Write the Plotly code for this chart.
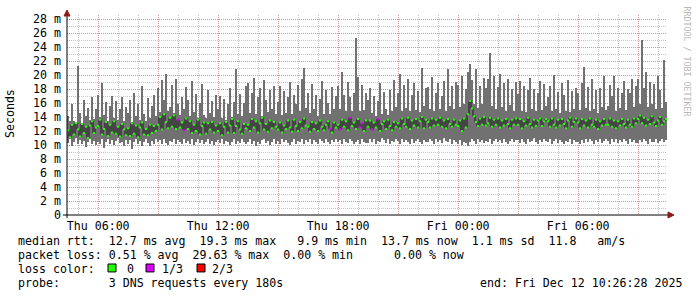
import plotly.graph_objects as go
import pandas as pd

START = "2025-12-11 04:26:28"
END = "2025-12-12 10:26:28"
STEP_MIN = 6

# upper smoke (max ping), ms
rtt_high = [
    14.2, 13.5, 15.8, 13.4, 13.2, 21.3, 14.6, 13.1, 16.4, 14.1, 15.3, 13.6, 16.9, 13.7, 15.1,
    17.2, 14.0, 18.9, 14.3, 16.1, 13.5, 15.6, 17.0, 13.8, 16.3, 13.6, 15.2, 16.8, 13.4, 15.5,
    14.6, 16.4, 13.3, 17.5, 14.2, 15.8, 13.6, 18.4, 14.5, 13.5, 16.7, 13.9, 15.6, 17.1, 14.2,
    18.1, 14.7, 19.3, 16.4, 20.2, 14.9, 15.5, 18.6, 14.6, 19.4, 15.9, 14.3, 16.8, 15.2, 18.3,
    16.5, 14.1, 19.2, 14.7, 17.3, 13.9, 16.0, 18.7, 14.3, 13.8, 17.8, 14.6, 16.3, 14.0, 17.1,
    15.2, 17.0, 13.8, 16.6, 13.6, 15.8, 18.1, 14.0, 16.2, 20.8, 14.4, 17.3, 14.1, 16.0, 18.5,
    18.8, 14.6, 17.4, 19.6, 14.5, 16.9, 18.2, 14.2, 19.3, 16.4, 14.7, 17.9, 15.1, 18.5, 14.5,
    16.2, 18.4, 14.3, 17.7, 14.6, 16.8, 19.0, 14.4, 17.2, 15.8, 18.6, 14.8, 19.5, 21.0, 15.3,
    17.5, 14.6, 18.7, 15.1, 17.1, 14.2, 16.6, 19.2, 14.5, 17.8, 16.0, 14.4, 18.3, 15.2, 17.0,
    18.4, 15.1, 20.5, 17.2, 14.9, 19.0, 16.8, 14.8, 17.4, 25.3, 19.7, 14.9, 18.6, 15.0, 17.5,
    16.5, 18.2, 14.6, 17.0, 14.2, 16.3, 18.9, 14.5, 17.6, 15.2, 14.3, 17.9, 14.8, 19.3, 15.4,
    17.4, 20.2, 14.9, 18.6, 15.3, 19.5, 14.8, 17.2, 18.9, 15.0, 17.7, 14.7, 21.0, 15.6, 18.2,
    18.3, 15.2, 19.7, 14.8, 17.5, 18.9, 15.1, 17.0, 19.2, 14.9, 20.8, 15.6, 18.4, 15.2, 19.0,
    18.6, 15.5, 19.9, 15.8, 18.0, 20.4, 21.6, 19.3, 15.9, 20.9, 15.3, 18.5, 15.8, 19.6, 18.1,
    19.5, 23.2, 15.6, 19.8, 15.2, 18.3, 20.1, 15.4, 18.8, 14.9, 19.4, 15.7, 18.0, 14.8, 19.0,
    17.3, 19.1, 14.9, 18.4, 14.7, 17.8, 19.6, 15.2, 18.0, 14.8, 17.4, 19.2, 15.0, 18.7, 15.6,
    16.8, 18.5, 14.8, 20.0, 15.1, 17.6, 14.6, 18.9, 17.1, 14.9, 19.3, 14.7, 17.7, 15.2, 18.2,
    17.5, 15.0, 18.8, 21.1, 15.3, 18.3, 14.8, 19.4, 15.2, 17.9, 14.6, 18.1, 15.5, 19.9, 15.0,
    15.6, 18.6, 17.0, 19.8, 14.9, 18.2, 15.3, 17.4, 19.1, 15.0, 18.0, 17.5, 19.5, 15.4, 18.4,
    19.4, 15.8, 25.0, 18.2, 20.5, 15.4, 19.0, 15.9, 18.7, 15.2, 19.8, 17.9, 15.3, 22.2, 16.2,
]

# lower smoke (min ping), ms
rtt_low = [
    10.3, 10.8, 9.9, 10.5, 11.0, 10.2, 10.7, 10.1, 10.6, 9.7, 10.4, 10.9, 10.2, 10.6, 10.0,
    10.5, 10.1, 10.8, 9.6, 10.4, 10.9, 10.2, 10.7, 10.0, 10.6, 11.0, 10.3, 10.5, 9.9, 10.7,
    10.2, 10.7, 9.5, 10.4, 10.9, 10.1, 10.6, 9.8, 10.5, 10.8, 10.3, 9.9, 10.6, 10.2, 10.8,
    10.4, 10.7, 10.1, 10.8, 10.3, 10.0, 10.6, 10.4, 10.9, 10.2, 10.7, 10.5, 10.1, 10.8, 10.3,
    10.6, 10.2, 10.8, 10.0, 10.5, 10.9, 10.3, 10.7, 10.1, 10.4, 10.8, 10.2, 10.6, 10.0, 10.5,
    10.7, 10.3, 10.9, 10.2, 10.6, 10.4, 10.0, 10.5, 10.8, 10.1, 10.6, 10.3, 10.9, 10.4, 10.2,
    10.4, 10.8, 10.1, 10.6, 9.8, 10.5, 10.2, 10.7, 10.9, 10.3, 10.6, 10.0, 10.5, 10.8, 10.2,
    10.6, 10.2, 10.9, 10.4, 10.7, 10.3, 10.0, 10.5, 10.8, 10.1, 10.6, 10.4, 10.9, 10.2, 10.7,
    10.5, 10.9, 10.2, 10.7, 10.4, 10.1, 10.8, 10.6, 10.3, 10.9, 10.5, 10.2, 10.7, 10.4, 10.8,
    10.4, 10.7, 10.2, 10.9, 10.5, 10.3, 10.8, 10.6, 10.1, 10.4, 10.7, 10.2, 10.9, 10.5, 10.3,
    10.3, 10.8, 10.5, 10.9, 10.2, 10.6, 10.4, 11.0, 10.7, 10.3, 10.8, 10.1, 10.6, 10.4, 10.9,
    10.6, 10.2, 10.9, 10.4, 10.7, 10.5, 10.1, 10.8, 10.3, 10.6, 10.9, 10.4, 10.2, 10.7, 10.5,
    10.4, 10.9, 10.6, 10.2, 10.8, 10.5, 10.7, 10.3, 11.0, 10.6, 10.4, 10.8, 10.2, 10.7, 10.5,
    10.2, 10.7, 10.0, 10.5, 10.3, 9.9, 10.4, 10.8, 10.6, 10.2, 10.9, 10.4, 10.7, 10.3, 10.6,
    10.5, 10.8, 10.2, 10.6, 10.9, 10.4, 10.7, 10.3, 10.8, 10.5, 10.1, 10.6, 10.9, 10.4, 10.7,
    10.7, 10.3, 10.9, 10.5, 10.1, 10.8, 10.4, 10.6, 11.0, 10.5, 10.2, 10.7, 10.4, 10.9, 10.6,
    10.4, 10.8, 10.2, 10.6, 10.9, 10.3, 10.7, 10.5, 10.1, 10.6, 10.4, 10.8, 10.2, 10.7, 10.5,
    10.5, 10.1, 10.7, 10.3, 10.8, 10.4, 10.9, 10.6, 10.2, 10.7, 10.5, 10.9, 10.3, 10.6, 10.8,
    10.6, 10.2, 10.8, 10.5, 10.9, 10.3, 10.7, 10.4, 10.8, 10.6, 10.2, 10.9, 10.5, 10.7, 10.3,
    10.3, 10.7, 10.5, 10.9, 10.6, 10.2, 10.8, 10.4, 10.5, 10.8, 10.3, 10.6, 10.9, 10.4, 10.7,
]

# median rtt, ms
rtt_median = [
    12.1, 11.1, 12.9, 11.5, 13.1, 12.2, 11.2, 13.0, 11.7, 12.6, 11.0, 12.8, 13.4, 11.7, 12.5,
    12.7, 13.6, 11.5, 12.3, 13.3, 11.3, 12.9, 11.8, 13.4, 11.6, 12.6, 11.2, 13.0, 12.2, 11.4,
    12.4, 11.3, 13.1, 11.6, 12.8, 11.1, 12.5, 13.2, 11.5, 12.3, 11.4, 12.9, 11.7, 12.7, 12.0,
    12.9, 14.0, 12.2, 14.4, 13.3, 12.4, 13.9, 12.6, 14.2, 12.3, 13.6, 12.5, 13.2, 12.1, 13.8,
    12.3, 13.4, 11.7, 12.9, 12.0, 13.6, 11.5, 12.7, 13.2, 11.6, 13.1, 12.2, 13.3, 11.8, 12.8,
    12.0, 13.1, 11.4, 12.6, 13.3, 11.8, 12.8, 13.7, 11.7, 12.7, 13.4, 12.2, 11.6, 13.0, 12.4,
    12.9, 12.0, 13.7, 12.5, 13.4, 11.8, 13.1, 13.9, 12.2, 13.0, 11.9, 13.5, 12.4, 13.3, 12.6,
    12.2, 13.2, 11.8, 12.8, 12.3, 13.5, 12.5, 11.9, 13.6, 12.7, 12.0, 13.3, 12.4, 13.8, 12.8,
    12.6, 11.9, 13.3, 12.3, 13.1, 12.0, 13.5, 12.6, 12.1, 12.9, 13.4, 12.3, 11.8, 13.2, 12.5,
    12.9, 12.2, 13.6, 12.6, 13.4, 12.1, 13.9, 12.7, 13.2, 12.3, 13.7, 12.5, 13.1, 12.0, 13.5,
    12.6, 13.5, 12.2, 13.2, 12.5, 13.7, 12.0, 13.0, 13.4, 12.3, 13.6, 12.7, 12.1, 13.3, 12.6,
    13.1, 12.4, 13.8, 13.0, 12.6, 13.9, 12.3, 13.5, 12.8, 13.7, 12.5, 13.4, 14.0, 12.4, 13.6,
    13.3, 12.5, 13.8, 12.8, 13.6, 12.9, 13.9, 12.6, 13.5, 12.4, 13.7, 13.0, 12.6, 13.6, 12.9,
    12.7, 13.5, 12.0, 13.8, 12.5, 14.4, 16.3, 15.2, 14.1, 13.3, 12.7, 13.8, 12.9, 14.0, 12.8,
    13.1, 13.9, 12.6, 13.6, 12.9, 13.8, 12.5, 13.5, 12.8, 13.7, 13.0, 12.4, 13.6, 12.9, 13.8,
    12.9, 13.7, 12.4, 13.4, 12.8, 13.9, 13.0, 12.5, 13.6, 12.7, 13.5, 13.8, 12.7, 13.4, 13.7,
    13.4, 12.6, 13.8, 12.9, 12.5, 13.6, 12.8, 13.7, 13.0, 12.4, 13.5, 13.9, 12.6, 13.3, 13.8,
    13.2, 12.4, 13.7, 12.8, 13.5, 12.5, 13.8, 12.9, 12.6, 13.6, 12.3, 13.4, 12.8, 13.7, 12.9,
    12.9, 13.8, 12.6, 13.5, 12.4, 13.4, 12.8, 13.7, 13.0, 12.5, 13.6, 12.9, 12.6, 13.8, 13.1,
    13.7, 14.2, 13.1, 13.9, 12.8, 13.6, 13.0, 14.1, 13.2, 12.7, 13.5, 14.0, 12.9, 13.4, 13.7,
]

# sample indices with 1/3 packet loss
loss_third_idx = [55, 58, 131, 136, 141, 146, 147, 152, 155]

y_tickvals = list(range(0, 29, 2))
y_ticktext = ["0"] + [f"{v}\u00a0m" for v in y_tickvals[1:]]
x_tickvals = ["2025-12-11 06:00", "2025-12-11 09:00", "2025-12-11 12:00", "2025-12-11 15:00",
              "2025-12-11 18:00", "2025-12-11 21:00", "2025-12-12 00:00", "2025-12-12 03:00",
              "2025-12-12 06:00", "2025-12-12 09:00"]
x_ticktext = ["Thu 06:00", "", "Thu 12:00", "", "Thu 18:00", "", "Fri 00:00", "", "Fri 06:00", ""]

LOSS_COLORS = {"0": "#22ff00", "1/3": "#dd00ff", "2/3": "#ff0000"}

FONT = "DejaVu Sans Mono"
FS = 11.6
GRID = "rgba(170,170,170,0.7)"
MGRID = "rgba(225,120,120,0.6)"

times = pd.date_range(START, periods=len(rtt_median), freq=f"{STEP_MIN}min")
step = pd.Timedelta(minutes=STEP_MIN)
step_ms = STEP_MIN * 60 * 1000

fig = go.Figure()
fig.add_trace(go.Bar(
    x=times, base=rtt_low, y=[h - l for h, l in zip(rtt_high, rtt_low)],
    offset=0, width=step_ms, marker=dict(color="#717171", line=dict(width=0)),
    hoverinfo="skip"))

fig.add_trace(go.Scatter(
    x=list(times) + [pd.Timestamp(END)], y=rtt_median + [rtt_median[-1]],
    mode="lines", line=dict(color="#1a1a1a", width=1, shape="hv"), hoverinfo="skip"))

dot_colors = [LOSS_COLORS["1/3"] if i in loss_third_idx else LOSS_COLORS["0"]
              for i in range(len(rtt_median))]
fig.add_trace(go.Scatter(
    x=times + step / 2, y=rtt_median, mode="markers",
    marker=dict(symbol="square", size=2, color=dot_colors, line=dict(width=0)),
    hoverinfo="skip"))

L, T, W, H = 67, 13, 600, 202


def px(x):
    return (x - L) / W


def py(y):
    return (T + H - y) / H


def nb(s):
    return s.replace(" ", "\u00a0")


annotations = []


def txt(x, y, s, size=FS, color="black"):
    annotations.append(dict(x=px(x), y=py(y), xref="paper", yref="paper", text=nb(s),
                            showarrow=False, xanchor="left", yanchor="middle",
                            font=dict(family=FONT, size=size, color=color)))


txt(16, 241, "median rtt:  12.7 ms avg  19.3 ms max   9.9 ms min  13.7 ms now  1.1 ms sd  11.8   am/s")
txt(16, 255.5, "packet loss: 0.51 % avg  29.63 % max  0.00 % min")
txt(392, 255.5, "0.00 % now")
txt(16, 269.5, "loss color:")
txt(125, 269.5, "0")
txt(160, 269.5, "1/3")
txt(210, 269.5, "2/3")
txt(16, 284, "probe:       3 DNS requests every 180s")
txt(478, 284, "end: Fri Dec 12 10:26:28 2025")
annotations.append(dict(x=px(10), y=py(113), xref="paper", yref="paper", text="Seconds",
                        showarrow=False, xanchor="center", yanchor="middle", textangle=-90,
                        font=dict(family=FONT, size=FS, color="black")))
annotations.append(dict(x=px(687), y=py(60), xref="paper", yref="paper",
                        text=nb("RRDTOOL / TOBI OETIKER"),
                        showarrow=False, xanchor="center", yanchor="middle", textangle=90,
                        font=dict(family=FONT, size=8.3, color="#b8b8b8")))

shapes = []
for (bx, col) in [(108, LOSS_COLORS["0"]), (146, LOSS_COLORS["1/3"]), (197, LOSS_COLORS["2/3"])]:
    shapes.append(dict(type="rect", xref="paper", yref="paper", x0=px(bx), x1=px(bx + 8),
                       y0=py(272.5), y1=py(264.5), fillcolor=col, line=dict(color="black", width=1)))
# axes
shapes.append(dict(type="line", xref="paper", yref="paper", x0=px(67), x1=px(67), y0=py(218), y1=py(12),
                   line=dict(color="black", width=1), layer="above"))
shapes.append(dict(type="line", xref="paper", yref="paper", x0=px(63), x1=px(669), y0=py(215), y1=py(215),
                   line=dict(color="black", width=1), layer="above"))
shapes.append(dict(type="path", xref="paper", yref="paper",
                   path=f"M {px(64)} {py(14)} L {px(70)} {py(14)} L {px(67)} {py(8)} Z",
                   fillcolor="#8b1a1a", line=dict(color="#8b1a1a", width=1), layer="above"))
shapes.append(dict(type="path", xref="paper", yref="paper",
                   path=f"M {px(668)} {py(212)} L {px(668)} {py(218)} L {px(674)} {py(215)} Z",
                   fillcolor="#8b1a1a", line=dict(color="#8b1a1a", width=1), layer="above"))

fig.update_layout(
    width=697, height=297, margin=dict(l=L, r=697 - L - W, t=T, b=297 - T - H),
    paper_bgcolor="white", plot_bgcolor="white", showlegend=False,
    barmode="overlay", bargap=0,
    font=dict(family=FONT, size=FS, color="black"),
    annotations=annotations, shapes=shapes,
    xaxis=dict(type="date", range=[START, END], tickmode="array", tickvals=x_tickvals,
               ticktext=x_ticktext, showgrid=True, gridcolor=MGRID, griddash="1px,1px", gridwidth=1,
               minor=dict(dtick=3600000, tick0="2025-12-11 00:00:00", showgrid=True,
                          gridcolor=GRID, griddash="1px,1px", gridwidth=1),
               showline=False, zeroline=False, ticks="", layer="above traces",
               ticklabelstandoff=2,
               tickfont=dict(family=FONT, size=FS, color="black"), fixedrange=True),
    yaxis=dict(range=[0, H / 7.07], tickmode="array", tickvals=y_tickvals, ticktext=y_ticktext,
               showgrid=True, gridcolor=MGRID, griddash="1px,1px", gridwidth=1,
               minor=dict(dtick=1, tick0=0, showgrid=True, gridcolor=GRID,
                          griddash="1px,1px", gridwidth=1),
               showline=False, zeroline=False, ticks="", layer="above traces",
               ticklabelstandoff=5,
               tickfont=dict(family=FONT, size=FS, color="black"), fixedrange=True),
)

fig.write_html("out.html")
